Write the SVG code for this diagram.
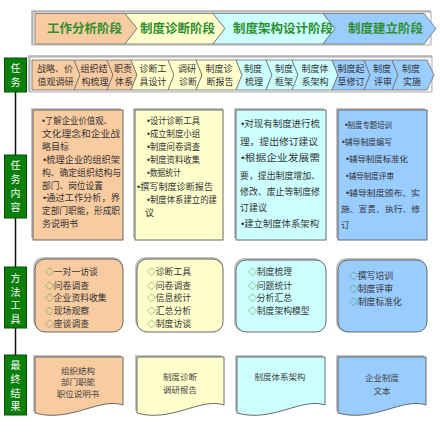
<svg xmlns="http://www.w3.org/2000/svg" width="440" height="439" viewBox="0 0 440 439">
<style>
text{font-family:"Noto Sans CJK SC","Noto Sans",sans-serif;}
.b{font-family:"Liberation Sans","DejaVu Sans",sans-serif;}
.sh{fill:#c4c4c4;stroke:none;}
.frame{fill:#fafafa;stroke:#9a9a9a;stroke-width:0.8;}
.ph{stroke:#6f6f6f;stroke-width:0.8;}
.c1{fill:#F9CBA0;}
.c2{fill:#FFFFCC;}
.c3{fill:#CCFFFF;}
.c4{fill:#99CCFF;}
.bx{stroke:#5a5a5a;stroke-width:0.9;}
.ht{font-size:12.5px;font-weight:bold;fill:#2F8F2F;}
.tt{font-size:9px;fill:#333;text-anchor:middle;}
.ct{font-size:9px;fill:#333;}
.ct4{font-size:8.5px;fill:#333;}
.mt{font-size:8.8px;fill:#333;}
.dm{fill:#2E9B2E;}
.rt{font-size:8.5px;fill:#444;text-anchor:middle;}
.lab{fill:#0A800A;stroke:#064d06;stroke-width:1;}
.lt{font-size:10px;fill:#fff;text-anchor:middle;}
</style>

<g id="connectors">
  <line x1="15.5" y1="92" x2="15.5" y2="355" stroke="#111" stroke-width="1.5"/>
</g>

<!-- Header phases -->
<g id="header">
  <rect class="sh" x="31" y="10" width="400" height="35"/>
  <rect class="frame" x="33" y="12" width="398" height="33"/>
  <g id="phase1"><polygon class="ph c1" points="35,13.5 125,13.5 137,28.5 125,44 35,44"/><text class="ht" x="47" y="33">工作分析阶段</text></g>
  <g id="phase2"><polygon class="ph c2" points="125,13.5 213,13.5 225,28.5 213,44 125,44 137,28.5"/><text class="ht" x="140" y="33">制度诊断阶段</text></g>
  <g id="phase3"><polygon class="ph c3" points="213,13.5 323,13.5 335,28.5 323,44 213,44 225,28.5"/><text class="ht" x="233" y="33">制度架构设计阶段</text></g>
  <g id="phase4"><polygon class="ph c4" points="323,13.5 424,13.5 436,28.5 424,44 323,44 335,28.5"/><text class="ht" x="348" y="33">制度建立阶段</text></g>
</g>

<!-- Task row -->
<g id="tasks">
  <rect class="sh" x="28" y="55" width="404" height="37"/>
  <rect class="frame" x="30" y="57" width="402" height="35"/>
  <g id="t1"><polygon class="ph c1" points="32,60 74,60 80,75 74,90 32,90"/><text class="tt" x="55" y="72">战略、价</text><text class="tt" x="55.5" y="85">值观调研</text></g>
  <g id="t2"><polygon class="ph c1" points="74,60 107,60 113,75 107,90 74,90 80,75"/><text class="tt" x="94" y="72">组织结</text><text class="tt" x="95" y="85">构梳理</text></g>
  <g id="t3"><polygon class="ph c1" points="107,60 131,60 137,75 131,90 107,90 113,75"/><text class="tt" x="123" y="72">职责</text><text class="tt" x="124" y="85">体系</text></g>
  <g id="t4"><polygon class="ph c2" points="131,60 168,60 174,75 168,90 131,90 137,75"/><text class="tt" x="153" y="72">诊断工</text><text class="tt" x="153" y="85">具设计</text></g>
  <g id="t5"><polygon class="ph c2" points="168,60 196,60 202,75 196,90 168,90 174,75"/><text class="tt" x="187" y="72">调研</text><text class="tt" x="188" y="85">诊断</text></g>
  <g id="t6"><polygon class="ph c2" points="196,60 236,60 242,75 236,90 196,90 202,75"/><text class="tt" x="219" y="72">制度诊</text><text class="tt" x="220" y="85">断报告</text></g>
  <g id="t7"><polygon class="ph c3" points="236,60 266,60 272,75 266,90 236,90 242,75"/><text class="tt" x="253" y="72">制度</text><text class="tt" x="254" y="85">梳理</text></g>
  <g id="t8"><polygon class="ph c3" points="266,60 292,60 298,75 292,90 266,90 272,75"/><text class="tt" x="284" y="72">制度</text><text class="tt" x="284" y="85">框架</text></g>
  <g id="t9"><polygon class="ph c3" points="292,60 332,60 338,75 332,90 292,90 298,75"/><text class="tt" x="315" y="72">制度体</text><text class="tt" x="315" y="85">系架构</text></g>
  <g id="t10"><polygon class="ph c4" points="332,60 364,60 370,75 364,90 332,90 338,75"/><text class="tt" x="351" y="72">制度起</text><text class="tt" x="351" y="85">草修订</text></g>
  <g id="t11"><polygon class="ph c4" points="364,60 392,60 398,75 392,90 364,90 370,75"/><text class="tt" x="382" y="72">制度</text><text class="tt" x="383" y="85">评审</text></g>
  <g id="t12"><polygon class="ph c4" points="392,60 427,60 434,75 427,90 392,90 398,75"/><text class="tt" x="411" y="72">制度</text><text class="tt" x="412" y="85">实施</text></g>
</g>

<!-- Row labels -->
<g id="label-task"><rect class="lab" x="4.5" y="58" width="22" height="34"/><text class="lt" x="15.5" y="71.5">任</text><text class="lt" x="15.5" y="85.5">务</text></g>
<g id="label-content"><rect class="lab" x="4.5" y="155" width="22" height="63"/><text class="lt" x="15.5" y="169">任</text><text class="lt" x="15.5" y="183">务</text><text class="lt" x="15.5" y="197">内</text><text class="lt" x="15.5" y="211">容</text></g>
<g id="label-method"><rect class="lab" x="4.5" y="267" width="22" height="61"/><text class="lt" x="15.5" y="282">方</text><text class="lt" x="15.5" y="295.5">法</text><text class="lt" x="15.5" y="309">工</text><text class="lt" x="15.5" y="322.5">具</text></g>
<g id="label-result"><rect class="lab" x="4.5" y="355" width="22" height="60"/><text class="lt" x="15.5" y="369">最</text><text class="lt" x="15.5" y="383">终</text><text class="lt" x="15.5" y="396.5">结</text><text class="lt" x="15.5" y="410">果</text></g>

<!-- Task content boxes -->
<g id="content1">
  <rect class="sh" x="31" y="108" width="90" height="130"/>
  <rect class="bx c1" x="33" y="110" width="90" height="130"/>
  <text class="ct" x="42" y="124" textLength="70" lengthAdjust="spacingAndGlyphs"><tspan class="b">•</tspan>了解企业价值观、</text>
  <text class="ct" x="42" y="136.9" textLength="78" lengthAdjust="spacingAndGlyphs">文化理念和企业战</text>
  <text class="ct" x="42" y="149.8">略目标</text>
  <text class="ct" x="43" y="162.7" textLength="77" lengthAdjust="spacingAndGlyphs"><tspan class="b">•</tspan>梳理企业的组织架</text>
  <text class="ct" x="42" y="175.6" textLength="79" lengthAdjust="spacingAndGlyphs">构、确定组织结构与</text>
  <text class="ct" x="42" y="188.5" textLength="61" lengthAdjust="spacingAndGlyphs">部门、岗位设置</text>
  <text class="ct" x="43" y="201.4" textLength="77" lengthAdjust="spacingAndGlyphs"><tspan class="b">•</tspan>通过工作分析，界</text>
  <text class="ct" x="42" y="214.3" textLength="78" lengthAdjust="spacingAndGlyphs">定部门职能，形成职</text>
  <text class="ct" x="42" y="227.2">务说明书</text>
</g>
<g id="content2">
  <rect class="sh" x="133" y="108" width="90" height="130"/>
  <rect class="bx c2" x="135" y="110" width="88" height="130"/>
  <text class="ct" x="147" y="124" textLength="53" lengthAdjust="spacingAndGlyphs"><tspan class="b">•</tspan>设计诊断工具</text>
  <text class="ct" x="147" y="137.1" textLength="53" lengthAdjust="spacingAndGlyphs"><tspan class="b">•</tspan>成立制度小组</text>
  <text class="ct" x="147" y="150.2" textLength="53" lengthAdjust="spacingAndGlyphs"><tspan class="b">•</tspan>制度问卷调查</text>
  <text class="ct" x="147" y="163.3" textLength="53" lengthAdjust="spacingAndGlyphs"><tspan class="b">•</tspan>制度资料收集</text>
  <text class="ct" x="147" y="176.4" textLength="34" lengthAdjust="spacingAndGlyphs"><tspan class="b">•</tspan>数据统计</text>
  <text class="ct" x="137" y="189.5" textLength="76" lengthAdjust="spacingAndGlyphs"><tspan class="b">•</tspan>撰写制度诊断报告</text>
  <text class="ct" x="147" y="202.6" textLength="70" lengthAdjust="spacingAndGlyphs"><tspan class="b">•</tspan>制度体系建立的建</text>
  <text class="ct" x="145" y="215.7">议</text>
</g>
<g id="content3">
  <rect class="sh" x="234" y="108" width="90" height="130"/>
  <rect class="bx c3" x="236" y="110" width="90" height="130"/>
  <text class="ct" x="241" y="127" textLength="79" lengthAdjust="spacingAndGlyphs"><tspan class="b">•</tspan>对现有制度进行梳</text>
  <text class="ct" x="240" y="145" textLength="78" lengthAdjust="spacingAndGlyphs">理，提出修订建议</text>
  <text class="ct" x="241" y="161" textLength="79" lengthAdjust="spacingAndGlyphs"><tspan class="b">•</tspan>根据企业发展需</text>
  <text class="ct" x="240" y="178.5" textLength="80" lengthAdjust="spacingAndGlyphs">要，提出制度增加、</text>
  <text class="ct" x="240" y="195" textLength="80" lengthAdjust="spacingAndGlyphs">修改、废止等制度修</text>
  <text class="ct" x="240" y="211">订建议</text>
  <text class="ct" x="241" y="227" textLength="78" lengthAdjust="spacingAndGlyphs"><tspan class="b">•</tspan>建立制度体系架构</text>
</g>
<g id="content4">
  <rect class="sh" x="336" y="108" width="89" height="130"/>
  <rect class="bx c4" x="338" y="110" width="89" height="130"/>
  <text class="ct4" x="345" y="128" textLength="47" lengthAdjust="spacingAndGlyphs"><tspan class="b">•</tspan>制度专题培训</text>
  <text class="ct4" x="342" y="145" textLength="50" lengthAdjust="spacingAndGlyphs"><tspan class="b">•</tspan>辅导制度编写</text>
  <text class="ct4" x="346" y="162" textLength="62" lengthAdjust="spacingAndGlyphs"><tspan class="b">•</tspan>辅导制度标准化</text>
  <text class="ct4" x="346" y="178.5" textLength="48" lengthAdjust="spacingAndGlyphs"><tspan class="b">•</tspan>辅导制度评审</text>
  <text class="ct4" x="346" y="196" textLength="74" lengthAdjust="spacingAndGlyphs"><tspan class="b">•</tspan>辅导制度颁布、实</text>
  <text class="ct4" x="341" y="212" textLength="79" lengthAdjust="spacingAndGlyphs">施、宣贯、执行、修</text>
  <text class="ct4" x="341" y="228">订</text>
</g>

<!-- Method boxes -->
<g id="method1">
  <rect class="sh" x="33" y="257" width="90" height="73" rx="10"/>
  <rect class="bx c1" x="35" y="259" width="88" height="73" rx="10"/>
  <text class="mt" x="45" y="274.5"><tspan class="dm">◇</tspan>一对一访谈</text>
  <text class="mt" x="45" y="288.5"><tspan class="dm">◇</tspan>问卷调查</text>
  <text class="mt" x="45" y="301"><tspan class="dm">◇</tspan>企业资料收集</text>
  <text class="mt" x="45" y="313.5"><tspan class="dm">◇</tspan>现场观察</text>
  <text class="mt" x="45" y="327"><tspan class="dm">◇</tspan>座谈调查</text>
</g>
<g id="method2">
  <rect class="sh" x="135" y="257" width="88" height="73" rx="10"/>
  <rect class="bx c2" x="137" y="259" width="86" height="73" rx="10"/>
  <text class="mt" x="147" y="274.5"><tspan class="dm">◇</tspan>诊断工具</text>
  <text class="mt" x="147" y="288.5"><tspan class="dm">◇</tspan>问卷调查</text>
  <text class="mt" x="147" y="301"><tspan class="dm">◇</tspan>信息统计</text>
  <text class="mt" x="147" y="313.5"><tspan class="dm">◇</tspan>汇总分析</text>
  <text class="mt" x="147" y="327"><tspan class="dm">◇</tspan>制度访谈</text>
</g>
<g id="method3">
  <rect class="sh" x="234" y="258" width="90" height="74" rx="10"/>
  <rect class="bx c3" x="236" y="260" width="90" height="72" rx="10"/>
  <text class="mt" x="248" y="275"><tspan class="dm">◇</tspan>制度梳理</text>
  <text class="mt" x="248" y="288.5"><tspan class="dm">◇</tspan>问题统计</text>
  <text class="mt" x="248" y="301"><tspan class="dm">◇</tspan>分析汇总</text>
  <text class="mt" x="248" y="313.5"><tspan class="dm">◇</tspan>制度架构模型</text>
</g>
<g id="method4">
  <rect class="sh" x="336" y="258" width="89" height="74" rx="10"/>
  <rect class="bx c4" x="338" y="260" width="89" height="72" rx="10"/>
  <text class="mt" x="349" y="279"><tspan class="dm">◇</tspan>撰写培训</text>
  <text class="mt" x="349" y="292"><tspan class="dm">◇</tspan>制度评审</text>
  <text class="mt" x="349" y="305"><tspan class="dm">◇</tspan>制度标准化</text>
</g>

<!-- Result documents -->
<g id="result1">
  <path class="sh" d="M33,355 H121 V403 C98,395 68,421 33,411 Z"/>
  <path class="bx c1" d="M35,357 H123 V405 C100,397 70,423 35,413 Z"/>
  <text class="rt" x="78" y="374">组织结构</text>
  <text class="rt" x="78" y="385">部门职能</text>
  <text class="rt" x="78" y="397">职位说明书</text>
</g>
<g id="result2">
  <path class="sh" d="M135,355 H222 V403 C199,395 169,421 135,411 Z"/>
  <path class="bx c2" d="M137,357 H224 V405 C201,397 171,423 137,413 Z"/>
  <text class="rt" x="180" y="380">制度诊断</text>
  <text class="rt" x="180" y="393">调研报告</text>
</g>
<g id="result3">
  <path class="sh" d="M235,355 H323 V403 C300,395 270,421 235,411 Z"/>
  <path class="bx c3" d="M237,357 H325 V405 C302,397 272,423 237,413 Z"/>
  <text class="rt" x="280" y="380">制度体系架构</text>
</g>
<g id="result4">
  <path class="sh" d="M336,355 H424 V403 C401,395 371,421 336,411 Z"/>
  <path class="bx c4" d="M338,357 H426 V405 C403,397 373,423 338,413 Z"/>
  <text class="rt" x="382" y="380.5">企业制度</text>
  <text class="rt" x="382" y="393.5">文本</text>
</g>
</svg>
